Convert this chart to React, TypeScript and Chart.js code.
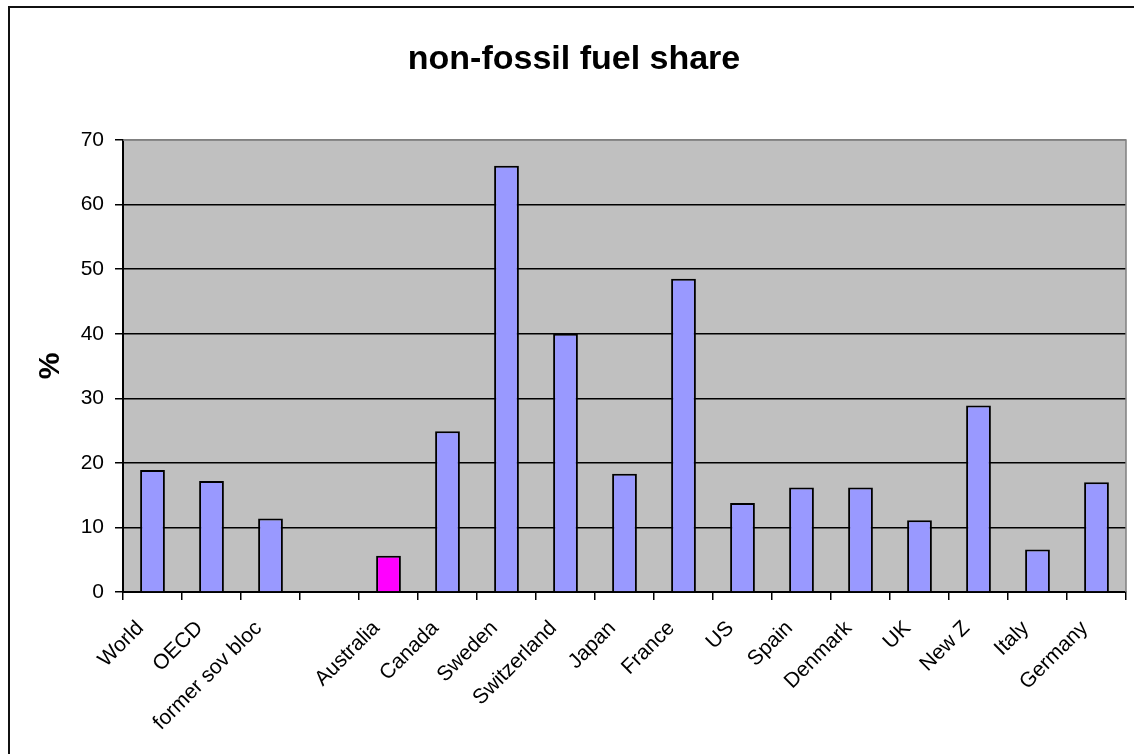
import React, { useEffect, useRef } from "react";
import { Chart, registerables } from "chart.js";

Chart.register(...registerables);

const TITLE = "non-fossil fuel share";
const Y_TITLE = "%";
const CATEGORIES = [
  "World", "OECD", "former sov bloc", "", "Australia", "Canada", "Sweden",
  "Switzerland", "Japan", "France", "US", "Spain", "Denmark", "UK", "New Z",
  "Italy", "Germany",
];
const VALUES: (number | null)[] = [
  18.9, 17.2, 11.4, null, 5.6, 24.9, 66.0, 40.0, 18.3, 48.5, 13.8, 16.2, 16.2,
  11.1, 28.9, 6.6, 17.0,
];
const HIGHLIGHT = "Australia";
const Y_MIN = 0;
const Y_MAX = 70;
const Y_STEP = 10;

const FONT = "'Liberation Sans', Arial, sans-serif";

const decor = {
  id: "decor",
  beforeDraw(chart: any) {
    const { ctx, chartArea: a } = chart;
    ctx.save();
    ctx.fillStyle = "#C0C0C0";
    ctx.fillRect(a.left, a.top, a.right - a.left, a.bottom - a.top);
    ctx.restore();
  },
  afterDraw(chart: any) {
    const { ctx, chartArea: a, width, height } = chart;
    ctx.save();
    ctx.strokeStyle = "#808080";
    ctx.lineWidth = 1.5;
    ctx.beginPath();
    ctx.moveTo(a.left, a.top);
    ctx.lineTo(a.right, a.top);
    ctx.lineTo(a.right, a.bottom);
    ctx.stroke();
    ctx.strokeStyle = "#111";
    ctx.lineWidth = 2;
    ctx.beginPath();
    ctx.moveTo(width, 7);
    ctx.lineTo(9, 7);
    ctx.lineTo(9, height);
    ctx.stroke();
    ctx.restore();
  },
};

export default function App() {
  const ref = useRef<HTMLCanvasElement>(null);
  useEffect(() => {
    if (!ref.current) return;
    const chart = new Chart(ref.current, {
      type: "bar",
      data: {
        labels: CATEGORIES,
        datasets: [
          {
            data: VALUES as any,
            backgroundColor: CATEGORIES.map((c) => (c === HIGHLIGHT ? "#FF00FF" : "#9999FF")),
            borderColor: "#000",
            borderWidth: 2,
            barPercentage: 0.42,
            categoryPercentage: 1,
          },
        ],
      },
      options: {
        responsive: false,
        animation: false,
        events: [],
        layout: { padding: { left: 22, right: 8, top: 0, bottom: 0 } },
        plugins: {
          legend: { display: false },
          tooltip: { enabled: false },
          title: {
            display: true,
            text: TITLE,
            color: "#000",
            font: { family: FONT, size: 34, weight: "bold" },
            padding: { top: 39, bottom: 60.2 },
          },
        },
        scales: {
          x: {
            offset: true,
            grid: {
              offset: true,
              drawOnChartArea: false,
              drawTicks: true,
              tickLength: 8,
              color: "#000",
              lineWidth: 1.5,
            },
            border: { color: "#000", width: 2 },
            ticks: {
              color: "#000",
              font: { family: FONT, size: 21 },
              maxRotation: 45,
              minRotation: 45,
              autoSkip: false,
              padding: 16,
              labelOffset: -12,
            },
            afterFit: (s: any) => {
              s.height = 162;
            },
          },
          y: {
            min: Y_MIN,
            max: Y_MAX,
            ticks: {
              stepSize: Y_STEP,
              color: "#000",
              font: { family: FONT, size: 21 },
              padding: 11,
            },
            grid: {
              color: (c: any) => (c.tick && c.tick.value === Y_MAX ? "#808080" : "#000"),
              tickColor: "#000",
              lineWidth: 1.5,
              tickLength: 8,
            },
            border: { color: "#000", width: 2 },
            title: {
              display: true,
              text: Y_TITLE,
              color: "#000",
              font: { family: FONT, size: 30, weight: "bold" },
              padding: { top: 11, bottom: 0 },
            },
            afterFit: (s: any) => {
              s.width = 101;
            },
          },
        },
      },
      plugins: [decor],
    });
    return () => chart.destroy();
  }, []);
  return (
    <div style={{ position: "fixed", left: 0, top: 0, width: 1134, height: 754, background: "#fff" }}>
      <canvas ref={ref} width={1134} height={754} style={{ display: "block" }} />
    </div>
  );
}
